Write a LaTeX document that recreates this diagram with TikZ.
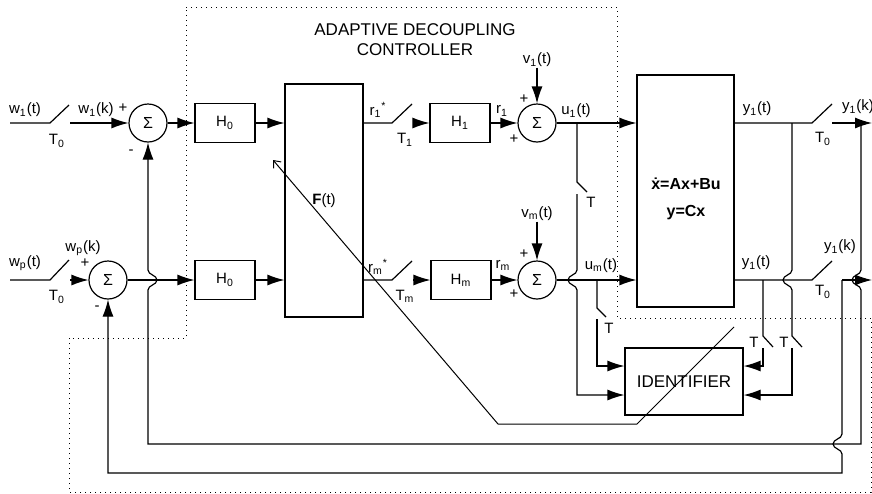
\documentclass[tikz,border=0pt]{standalone}
\usepackage{fontspec}
\setmainfont{Liberation Sans}
\usetikzlibrary{arrows.meta,positioning,calc}
\newcommand{\sbs}[1]{\textsubscript{#1}}

\begin{document}
\begin{tikzpicture}[x=.5pt,y=-.5pt,>={Latex[length=8.5pt,width=5.5pt]},line width=.6pt,font=\fontsize{7.5}{9}\selectfont]
\tikzstyle{blockbox}=[draw,minimum width=30pt,minimum height=19.5pt,inner sep=0pt]
\tikzstyle{sumnode}=[draw,circle,minimum size=19pt,inner sep=0pt,font=\fontsize{8}{9}\selectfont]
\tikzstyle{lbl}=[inner sep=0pt]
\tikzstyle{dotbox}=[dotted,line width=.5pt]
\useasboundingbox (0,0) rectangle (872,493);
\coordinate (rowone) at (0,123);
\coordinate (rowm) at (0,280);
\coordinate (rowa) at (0,366);
\coordinate (rowb) at (0,395);
% controller region
\draw[dotbox] (186,7) -- (617,7) -- (617,318) -- (871,318) -- (871,492) -- (69,492) -- (69,338) -- (186,338) -- cycle;
\node[align=center,font=\fontsize{8.5}{10}\selectfont] (title) at (415,40) {ADAPTIVE DECOUPLING\\CONTROLLER};
% blocks
\node[sumnode] (sumone) at (148,123) {Σ};
\node[sumnode] (sump) at (108,280) {Σ};
\node[blockbox] (hzeroa) at (225,123) {H\sbs{0}};
\node[blockbox] (hzerob) at (225,280) {H\sbs{0}};
\node[draw,minimum width=39pt,minimum height=116.5pt] (ffilter) at (324,200.5) {\textbf{F}(t)};
\node[blockbox] (hone) at (460,123) {H\sbs{1}};
\node[blockbox] (hm) at (461,280) {H\sbs{m}};
\node[sumnode] (sumv) at (537,123) {Σ};
\node[sumnode] (summ) at (537,280) {Σ};
\node[draw,minimum width=48.5pt,minimum height=116pt] (plant) at (685.5,191) {};
\node[align=center,font=\fontsize{8}{9.5}\selectfont\bfseries] (plantlbl) at (686,199) {\.{x}=Ax+Bu\\[4pt]y=Cx};
\node[draw,minimum width=59pt,minimum height=33.5pt,font=\fontsize{8.5}{10}\selectfont] (ident) at (684,381.5) {IDENTIFIER};
\node[lbl] (vone) at (537,60) {v\sbs{1}(t)};
\node[lbl] (vm) at (537,214) {v\sbs{m}(t)};
% labels
\foreach \nm/\px/\py/\txt in {wonet/25/110/w\sbs{1}(t), wpt/25/263/w\sbs{p}(t), tzeroa/57/141/T\sbs{0}, tzerob/57/297/T\sbs{0},
  wonek/96/110/w\sbs{1}(k), wpk/83/248/w\sbs{p}(k), plusa/123/108/+, minusa/131/152/-, plusb/85/263/+, minusb/97/308/-,
  rones/378/110/r\sbs{1}\textsuperscript{*}, tone/405/140/T\sbs{1}, rms/378/267/r\sbs{m}\textsuperscript{*}, tm/405/296/T\sbs{m},
  rone/502/111/r\sbs{1}, rm/503/265/r\sbs{m}, plusc/524/99/+, plusd/514/139/+, pluse/524/254/+, plusf/514/294/+,
  uone/576/111/u\sbs{1}(t), um/601/266/u\sbs{m}(t), ta/591/202/T, tb/609/328/T, tc/754/342/T, td/784/342/T,
  yonet/757/109/y\sbs{1}(t), yonetb/756/263/y\sbs{1}(t), tzeroc/823/139/T\sbs{0}, tzerod/823/292/T\sbs{0},
  yonek/858/107/y\sbs{1}(k), yonekb/840/247/y\sbs{1}(k)}
  \node[lbl] (\nm) at (\px,\py) {\txt};
% inputs and samplers
\draw (10,123) -- (50,123) -- ++(19,-18);
\draw[->] (70,123) -- (sumone);
\draw (10,280) -- (50,280) -- ++(19,-20);
\draw[->] (70,280) -- (sump);
\foreach \a/\b in {sumone/hzeroa,sump/hzerob,hone/sumv,hm/summ}{\draw[->] (\a) -- (\b);}
\draw[->] (hzeroa) -- (ffilter.west |- rowone);
\draw[->] (hzerob) -- (ffilter.west |- rowm);
\draw (ffilter.east |- rowone) -- (392,123) -- ++(20,-19);
\draw[->] (413,123) -- (hone);
\draw (ffilter.east |- rowm) -- (392,280) -- ++(20,-19);
\draw[->] (413,280) -- (hm);
\draw[->] (vone) -- (sumv);
\draw[->] (vm) -- (summ);
\draw[->] (sumv) -- (plant.west |- rowone);
\draw[->] (summ) -- (plant.west |- rowm);
% plant outputs
\coordinate (fbone) at (861,123);
\coordinate (fbm) at (842,280);
\draw (plant.east |- rowone) -- (812,123) -- ++(20,-19);
\draw[->] (832,123) -- (872,123);
\draw (plant.east |- rowm) -- (812,280) -- ++(20,-19);
\draw[->] (fbm) -- (872,280);
% samplers to identifier
\draw (577,123) -- (577,182) -- ++(10,10);
\draw[->] (577,194) -- (577,270) .. controls (577,275) and (568,275) .. (568,280) .. controls (568,285) and (577,285) .. (577,290) -- (577,395) -- (ident.west |- rowb);
\draw (597,280) -- (597,308) -- ++(9,9);
\draw[->] (597,319) -- (597,366) -- (ident.west |- rowa);
\draw (792,123) -- (792,270) .. controls (792,275) and (783,275) .. (783,280) .. controls (783,285) and (792,285) .. (792,290) -- (792,336) -- ++(10,11);
\draw[->] (792,348) -- (792,395) -- (ident.east |- rowb);
\draw (763,280) -- (763,336) -- ++(10,11);
\draw[->] (763,348) -- (763,366) -- (ident.east |- rowa);
% feedback loops
\draw[->] (fbone) -- (861,270) .. controls (861,275) and (852,275) .. (852,280) .. controls (852,285) and (861,285) .. (861,290) -- (861,444) -- (148,444) -- (148,290) .. controls (148,285) and (157,285) .. (157,280) .. controls (157,275) and (148,275) .. (148,270) -- (sumone);
\draw[->] (fbm) -- (842,434) .. controls (842,439) and (833,439) .. (833,444) .. controls (833,449) and (842,449) .. (842,454) -- (842,473) -- (108,473) -- (sump);
% adaptation
\coordinate (adapt) at (734,327);
\coordinate (adapttip) at (273,160);
\draw[line width=.5pt,-{Straight Barb[length=3pt,width=5pt]}] (adapt) -- (637,424) -- (498,424) -- (adapttip);
\end{tikzpicture}
\end{document}
